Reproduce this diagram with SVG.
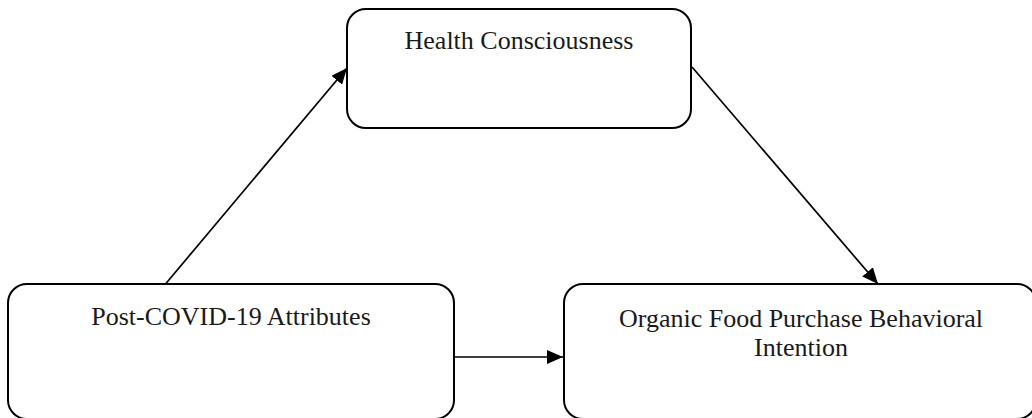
<svg xmlns="http://www.w3.org/2000/svg" width="1032" height="418" viewBox="0 0 1032 418">
  <style>
    .box { fill: #ffffff; stroke: #000000; stroke-width: 2; }
    .lbl { font-family: "Liberation Serif", "Times New Roman", serif; font-size: 26px; fill: #1a1a1a; text-anchor: middle; }
    .edge { stroke: #000000; stroke-width: 1.7; fill: none; marker-end: url(#arrow); }
  </style>
  <defs>
    <marker id="arrow" markerUnits="userSpaceOnUse" markerWidth="16" markerHeight="14" refX="16" refY="7" orient="auto">
      <path d="M0,0 L16,7 L0,14 Z" fill="#000000"/>
    </marker>
  </defs>
  <rect width="1032" height="418" fill="#ffffff"/>
  <g id="connectors">
    <line class="edge" x1="165.5" y1="284" x2="347" y2="68"/>
    <line class="edge" x1="692" y1="67" x2="878" y2="284"/>
    <line class="edge" x1="455" y1="357" x2="563" y2="357"/>
  </g>
  <g id="node-health">
    <rect class="box" x="347" y="9" width="344" height="119" rx="19" ry="19"/>
    <text class="lbl" x="519" y="49">Health Consciousness</text>
  </g>
  <g id="node-postcovid">
    <rect class="box" x="8" y="284" width="446" height="135" rx="19" ry="19"/>
    <text class="lbl" x="231" y="325">Post-COVID-19 Attributes</text>
  </g>
  <g id="node-organic">
    <rect class="box" x="564" y="284" width="472" height="135" rx="19" ry="19"/>
    <text class="lbl" x="801" y="327">Organic Food Purchase Behavioral</text>
    <text class="lbl" x="801" y="356">Intention</text>
  </g>
</svg>
